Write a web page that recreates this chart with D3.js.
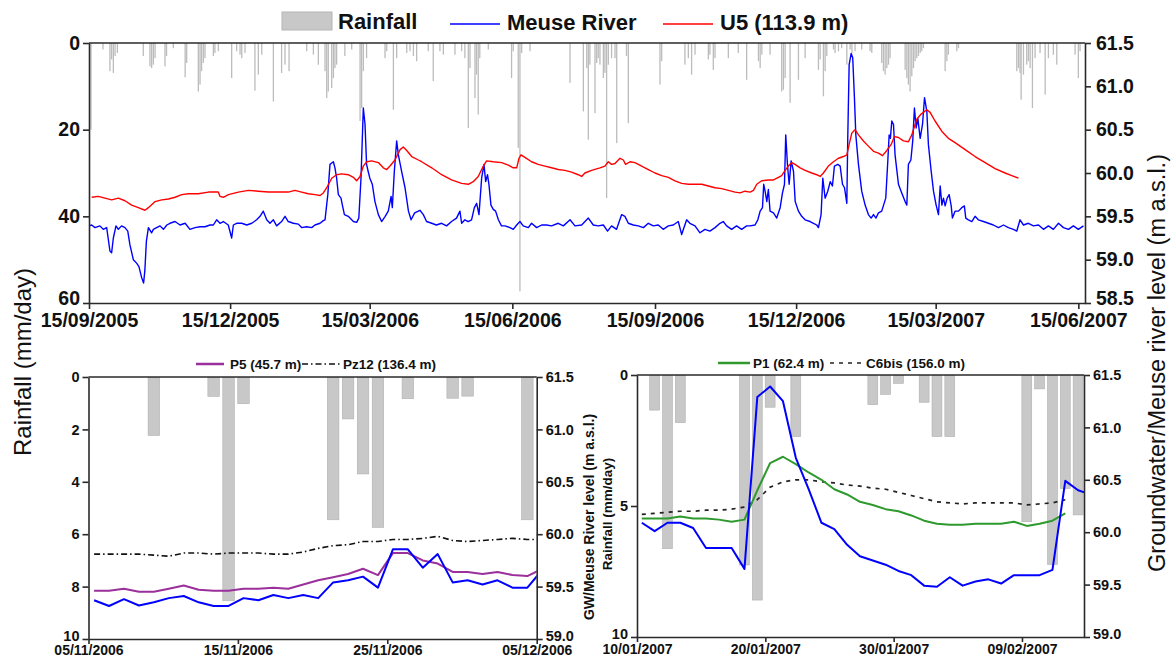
<!DOCTYPE html>
<html><head><meta charset="utf-8">
<script src="https://cdn.jsdelivr.net/npm/d3@7"></script>
<style>
body{margin:0;background:#fff;}
svg{display:block;font-family:"Liberation Sans",Arial,sans-serif;}
</style></head><body>
<svg id="chart" width="1173" height="659"></svg>
<script>
// ---------------- DATA ----------------
// Top panel: days since 15/09/2005
const topStart = "2005-09-15";
const topTickLabels = ["15/09/2005","15/12/2005","15/03/2006","15/06/2006","15/09/2006","15/12/2006","15/03/2007","15/06/2007"];
const topRainTicks = [0,20,40,60];
const topLevelTicks = [58.5,59.0,59.5,60.0,60.5,61.0,61.5];
const topRain = [[1.3,20],[9,1.5],[13.5,6.5],[14.6,3.8],[15.7,6.9],[16.8,3],[18.3,2.3],[35,3],[39.3,5.4],[40.4,5.8],[41.5,5],[42.6,3.5],[49,5.4],[50,3],[54.4,1.2],[62,7.9],[63,4.6],[70.5,11.2],[71.6,9.6],[72.6,6.5],[73.7,4.6],[74.8,3.5],[80.2,3],[81.2,2.3],[83.4,1.9],[92,8.1],[95.2,1.9],[97.4,2.7],[98.5,3.5],[100.6,2.3],[107,11],[109.2,7.3],[111.4,2.7],[118.9,13.5],[124.2,6.9],[126.4,5],[129,6.5],[140.4,1.9],[144.7,2.7],[147.9,5],[152.2,6.5],[153.3,12.7],[154.3,11.2],[156.5,10.4],[157.6,8.1],[158.6,5.8],[159.7,5],[165,3],[169.4,1.5],[174.8,18],[175.8,15],[176.9,6.5],[179,3.5],[190.9,3.5],[192,1.9],[196.3,15.4],[198.4,3.5],[204.9,2.3],[207,1.9],[209.2,3],[211.3,4.2],[218.8,1.9],[222,8.8],[226.3,1.9],[228.5,2.7],[236,2.7],[240.3,1.9],[242.4,3.5],[244.6,19.6],[245.7,5.8],[248.9,12.7],[249.9,7.3],[251,16.5],[252,3.5],[257.5,1.5],[272.5,8.1],[273.6,1.9],[276.8,24.2],[277.9,57.3],[279,2.3],[284.4,1.9],[310.2,9.2],[318.8,15.8],[321,5.8],[322,22.3],[323,5],[326.3,16.2],[327.4,4.6],[328.4,3.5],[329.5,5],[331.7,8.1],[332.7,6.9],[333.8,35.8],[334.9,5],[337,3.5],[339.2,3.5],[340.3,23.1],[346.6,3],[347.8,18.5],[368.2,9.6],[369.3,4.2],[384.3,5],[386.5,3.5],[388.6,7.3],[390.8,2.7],[399.4,3.8],[400.4,2.7],[402.6,6.2],[403.7,3.5],[412.3,3.5],[418.7,2.3],[424.1,8.5],[431.7,4.2],[432.8,5.8],[433.9,2.7],[439.2,2.7],[446.7,11.2],[447.8,10.8],[448.9,8.1],[452.1,13.8],[457.5,8.5],[461.8,3.5],[470.4,6.2],[471.5,3.8],[473.6,12.3],[474.7,6.5],[475.8,3],[480.1,1.5],[481.1,2.3],[483.3,1.9],[485.4,1.2],[488.7,5],[490.8,1.5],[492,2.3],[494,1.9],[498.3,1.5],[503.7,1.9],[504.8,2.3],[511.2,4.6],[512.3,6.5],[513.4,7.3],[514.5,5.8],[515.6,5],[516.6,3.5],[526.3,6.2],[527.4,8.1],[528.4,9.6],[529.5,11.2],[530.6,7.7],[531.7,5.8],[532.7,4.2],[533.8,3.5],[534.9,3],[536,2.3],[537,1.9],[538.1,1.2],[552.1,6.5],[553.2,4.2],[554.2,2.7],[559.6,1.9],[560.7,1.2],[598.3,6.5],[599.4,5.8],[600.4,6.9],[601.1,13.1],[602.6,7.3],[604.7,5],[605.8,4.2],[606.9,5.8],[608.4,15],[610.1,3.5],[613.3,2.3],[616.6,11.9],[618.7,3.5],[621.9,2.7],[624.1,5],[635.9,2.7],[638,8.1],[639.1,1.9]];
const topMeuse = [[0,59.39],[1.7,59.40],[3.9,59.37],[7,59.39],[9.2,59.35],[11.4,59.37],[13.5,59.10],[14.6,59.08],[15.7,59.25],[17.4,59.39],[18.9,59.35],[21,59.39],[23.2,59.37],[25,59.33],[26.4,59.17],[28.6,59.00],[30.7,58.96],[32.2,58.92],[34,58.79],[35.2,58.73],[36,58.87],[37,59.21],[38.3,59.37],[40.4,59.31],[41.5,59.35],[43.6,59.37],[45.8,59.39],[48,59.35],[50.2,59.40],[52.2,59.42],[55.5,59.44],[58.7,59.40],[62,59.42],[65.1,59.35],[68.4,59.37],[71.6,59.38],[74.8,59.38],[78,59.40],[80.2,59.40],[82.3,59.46],[84.5,59.42],[86.6,59.44],[89.8,59.40],[92,59.25],[93.1,59.40],[95.2,59.42],[98.5,59.42],[101.7,59.40],[105,59.42],[108.1,59.46],[110.3,59.50],[112.4,59.56],[114.6,59.46],[116.7,59.42],[118.9,59.46],[121,59.39],[124.2,59.44],[126.4,59.50],[128.5,59.44],[131.8,59.42],[135,59.41],[137.1,59.37],[140.3,59.38],[143.6,59.37],[145.7,59.40],[149,59.42],[151.1,59.45],[152.2,59.46],[154,59.75],[155.4,60.10],[157.6,60.13],[158.6,60.06],[159.7,59.94],[160.8,59.75],[162.5,59.71],[163.4,59.63],[164.7,59.52],[167.2,59.50],[170.5,59.44],[172.6,59.43],[174,59.48],[175.4,59.94],[176.9,60.75],[178,60.56],[179,60.10],[180,60.02],[181.1,59.94],[182.7,59.87],[184.4,59.67],[186.6,59.52],[188.7,59.44],[191,59.50],[193,59.56],[194.8,59.73],[195.6,59.60],[196.9,60.02],[198.4,60.37],[199.5,60.21],[201.6,60.02],[203.8,59.83],[206,59.56],[207.7,59.46],[210,59.54],[212.4,59.56],[213.4,59.57],[215.6,59.52],[217.7,59.44],[221,59.42],[224,59.40],[227.4,59.42],[230.6,59.39],[233.8,59.44],[237,59.48],[239.2,59.56],[240.3,59.42],[242.4,59.46],[244.5,59.44],[246.7,59.46],[248.5,59.60],[250,59.65],[251.5,59.52],[253.2,59.94],[254.7,60.10],[255.8,59.90],[257,59.98],[257.9,59.87],[259.2,59.63],[260.7,59.58],[262.2,59.56],[264,59.46],[266,59.39],[268.2,59.39],[271.5,59.37],[273.6,59.35],[275.8,59.40],[277.9,59.44],[280,59.39],[283.3,59.37],[285.4,59.42],[288.7,59.37],[291.9,59.40],[295.1,59.40],[298.3,59.39],[302.6,59.42],[305.9,59.39],[310.2,59.46],[313.4,59.39],[317.7,59.40],[322,59.48],[325.2,59.40],[328.4,59.39],[331.7,59.40],[334.4,59.33],[337,59.39],[340.2,59.35],[343.5,59.52],[345.6,59.50],[347.8,59.42],[351,59.40],[354.2,59.39],[357.5,59.37],[360.7,59.42],[363.9,59.39],[367.1,59.40],[370.3,59.35],[373.6,59.39],[376.8,59.40],[380,59.44],[382.2,59.29],[385.4,59.46],[387.5,59.42],[390.8,59.39],[394,59.31],[397.2,59.35],[400.4,59.33],[403.7,59.37],[406.9,59.42],[409,59.44],[411.2,59.39],[414.4,59.35],[417.6,59.39],[420.9,59.35],[424.1,59.39],[426.3,59.39],[429.5,59.40],[431.3,59.46],[432.8,59.56],[434.3,59.60],[435.1,59.87],[436,59.79],[437.1,59.67],[438.1,59.81],[439.2,59.56],[441.4,59.54],[443.5,59.48],[445.7,59.60],[447.2,59.77],[448.5,59.87],[449.3,60.44],[450.4,60.10],[451.5,59.87],[452.8,60.14],[454.3,60.02],[455.4,59.67],[457.5,59.56],[459.6,59.50],[461.8,59.46],[465,59.44],[467.2,59.42],[469.3,59.40],[470.4,59.37],[472.1,59.52],[473.2,59.94],[474.7,59.71],[476.4,59.79],[478,59.90],[479.4,59.85],[480.7,60.08],[482.9,60.10],[484.4,60.08],[485.9,59.87],[487.2,59.83],[488.7,59.65],[489.3,60.40],[490.2,61.25],[491.5,61.38],[492.5,61.33],[493.6,60.87],[494.5,60.44],[496.2,60.10],[498.3,59.79],[500.5,59.63],[502.6,59.52],[504.4,59.48],[505.9,59.52],[507.5,59.48],[509.1,59.54],[511.2,59.56],[513.8,59.71],[515.1,60.13],[516,60.44],[516.8,60.40],[517.7,60.60],[518.8,60.56],[519.8,60.21],[522,59.87],[524.1,59.77],[526.3,59.67],[527.4,59.63],[528.4,60.10],[530,60.15],[531.2,60.37],[532.3,60.75],[533.4,60.52],[534.5,60.63],[536,60.40],[537.5,60.56],[538.8,60.87],[540.3,60.71],[541.3,60.33],[543.1,60.02],[544.6,59.79],[546.3,59.63],[547.8,59.52],[548.9,59.85],[550,59.63],[551,59.71],[552.1,59.62],[553.4,59.71],[554.7,59.75],[556,59.62],[556.8,59.48],[558.5,59.56],[560.7,59.56],[562.8,59.60],[564.5,59.62],[565.4,59.48],[567.1,59.46],[569.3,59.44],[571.4,59.50],[573.5,59.46],[576.8,59.44],[580,59.42],[583.2,59.40],[586.5,59.37],[589.7,59.40],[592.9,59.37],[596.1,59.35],[598.3,59.33],[600.4,59.46],[602.6,59.40],[605.8,59.42],[609,59.39],[612.3,59.40],[615.5,59.35],[618.7,59.39],[621.9,59.35],[625.2,59.42],[628.4,59.37],[631.6,59.35],[634.8,59.39],[638,59.35],[641.3,59.39]];
const topU5 = [[1.7,59.72],[6,59.73],[10.3,59.71],[14.6,59.69],[18.9,59.71],[23.2,59.68],[27.5,59.63],[31.8,59.60],[36.1,59.57],[38.3,59.60],[42.6,59.67],[46.9,59.69],[51.2,59.70],[55.5,59.72],[59.8,59.75],[64.1,59.76],[70.5,59.76],[77,59.78],[83.4,59.78],[84.5,59.73],[86.6,59.72],[89.9,59.75],[96.3,59.78],[102.8,59.80],[109.2,59.79],[115.7,59.78],[122.1,59.78],[128.5,59.78],[132.8,59.80],[137.1,59.78],[141.4,59.76],[145.7,59.75],[149,59.74],[151.1,59.77],[153.3,59.83],[156.5,59.94],[159.7,59.98],[162.9,59.99],[167.2,59.98],[170.5,59.95],[172.6,59.91],[174.8,59.96],[176.9,60.08],[179.1,60.13],[182.3,60.14],[186.6,60.12],[189.8,60.06],[192,60.04],[194.1,60.08],[197.3,60.15],[200.6,60.27],[202.7,60.30],[204.9,60.26],[208.1,60.19],[212.4,60.15],[214.5,60.13],[221,60.06],[227.4,59.98],[233.8,59.92],[240.3,59.88],[244.6,59.87],[247.8,59.90],[251,59.96],[254.3,60.08],[256.4,60.14],[260.7,60.13],[266.1,60.12],[270.4,60.09],[273.6,60.06],[275.8,60.06],[277.3,60.17],[278.6,60.21],[281.1,60.18],[285.4,60.13],[289.7,60.10],[294,60.08],[298.3,60.06],[302.6,60.04],[306.9,60.03],[311.2,60.01],[315.5,59.98],[317.7,59.96],[319.8,60.00],[324.1,60.03],[329.5,60.06],[332.7,60.08],[334.9,60.13],[337,60.10],[339.2,60.11],[342.4,60.17],[344.6,60.15],[346,60.10],[348.9,60.13],[352.1,60.12],[356.4,60.08],[360.7,60.04],[365,60.00],[369.3,59.97],[373.6,59.95],[377.9,59.91],[382.2,59.88],[386.5,59.87],[390.8,59.87],[395.1,59.87],[399.4,59.85],[403.7,59.83],[408,59.82],[412.3,59.80],[416.6,59.78],[419.8,59.77],[423.1,59.79],[426.3,59.78],[428.5,59.80],[430.6,59.87],[433.8,59.91],[438.1,59.92],[441.4,59.92],[444.6,59.95],[446.7,59.97],[448.9,60.03],[451,60.08],[453.2,60.12],[455.3,60.10],[458.6,60.06],[461.8,60.03],[466.1,60.00],[469.3,59.98],[471.5,59.96],[473.6,60.00],[476.8,60.08],[480.1,60.13],[483.3,60.17],[486.5,60.19],[488.7,60.21],[490.2,60.33],[491.9,60.46],[494,60.50],[496.2,60.44],[499.4,60.37],[502.6,60.31],[505.9,60.25],[509.1,60.23],[511.7,60.20],[514.5,60.26],[517.3,60.33],[519.4,60.42],[522,60.41],[525.2,60.37],[528.4,60.36],[530.6,60.44],[533.8,60.62],[536.6,60.68],[540.3,60.73],[542.4,60.70],[545.6,60.60],[550,60.48],[554.2,60.40],[558.5,60.35],[565,60.27],[571.4,60.19],[577.9,60.12],[584.3,60.05],[590.8,60.00],[595.1,59.97],[599.4,59.94]];

// Bottom-left panel: daily readings from 05/11/2006
const blStart = "2006-11-05";
const blTickLabels = ["05/11/2006","15/11/2006","25/11/2006","05/12/2006"];
const blRainTicks = [0,2,4,6,8,10];
const blLevelTicks = [59.0,59.5,60.0,60.5,61.0,61.5];
const blRain = [["2006-11-09",2.23],["2006-11-13",0.74],["2006-11-14",8.54],["2006-11-15",1.02],["2006-11-21",5.45],["2006-11-22",1.60],["2006-11-23",3.70],["2006-11-24",5.74],["2006-11-26",0.83],["2006-11-29",0.81],["2006-11-30",0.73],["2006-12-04",5.45]];
const blMeuse = [59.37,59.315,59.38,59.32,59.35,59.39,59.41,59.35,59.315,59.315,59.39,59.37,59.42,59.39,59.42,59.39,59.54,59.56,59.595,59.49,59.856,59.856,59.68,59.81,59.54,59.56,59.52,59.56,59.49,59.49,59.66];
const blP5 = [59.46,59.46,59.48,59.45,59.45,59.48,59.51,59.47,59.46,59.46,59.48,59.48,59.49,59.48,59.52,59.56,59.59,59.62,59.67,59.61,59.82,59.82,59.75,59.72,59.64,59.64,59.62,59.64,59.61,59.60,59.67];
const blPz12 = [59.81,59.81,59.81,59.81,59.80,59.79,59.82,59.82,59.81,59.82,59.82,59.82,59.81,59.81,59.83,59.865,59.89,59.90,59.93,59.93,59.95,59.95,59.96,59.98,59.94,59.93,59.94,59.95,59.96,59.95,59.95];

// Bottom-right panel: daily readings from 10/01/2007
const brStart = "2007-01-10";
const brTickLabels = ["10/01/2007","20/01/2007","30/01/2007","09/02/2007"];
const brRainTicks = [0,5,10];
const brLevelTicks = [59.0,59.5,60.0,60.5,61.0,61.5];
const brRain = [["2007-01-11",1.34],["2007-01-12",6.63],["2007-01-13",1.82],["2007-01-18",7.25],["2007-01-19",8.59],["2007-01-20",1.23],["2007-01-22",2.35],["2007-01-28",1.13],["2007-01-29",0.74],["2007-01-30",0.32],["2007-02-01",1.04],["2007-02-02",2.35],["2007-02-03",2.35],["2007-02-09",5.6],["2007-02-10",0.53],["2007-02-11",7.23],["2007-02-12",4.33],["2007-02-13",5.34]];
const brMeuse = [60.09,60.01,60.09,60.09,60.04,59.85,59.85,59.85,59.65,61.29,61.39,61.25,60.71,60.41,60.09,60.03,59.88,59.77,59.73,59.69,59.63,59.59,59.49,59.48,59.57,59.49,59.53,59.55,59.51,59.59,59.59,59.59,59.64,60.49,60.40,60.36];
const brP1 = [60.13,60.13,60.13,60.15,60.13,60.13,60.12,60.10,60.12,60.40,60.66,60.72,60.65,60.57,60.50,60.41,60.36,60.29,60.26,60.22,60.20,60.16,60.11,60.08,60.07,60.07,60.08,60.08,60.08,60.10,60.06,60.08,60.11,60.18];
const brC6bis = [60.17,60.18,60.19,60.20,60.20,60.21,60.21,60.22,60.24,60.31,60.43,60.48,60.50,60.50,60.48,60.47,60.45,60.44,60.42,60.41,60.38,60.35,60.32,60.29,60.28,60.27,60.28,60.28,60.28,60.28,60.26,60.27,60.28,60.31];

const readingHour = 9; // daily readings taken in the morning

// ---------------- DRAW ----------------
const svg = d3.select("#chart");
const DAY = 864e5;
const pISO = d3.utcParse("%Y-%m-%d");
const pDMY = d3.utcParse("%d/%m/%Y");
const fDMY = d3.utcFormat("%d/%m/%Y");
const AX = "#2a2a2a";
const BLUE = "#0000ff", RED = "#ff0000", PURPLE = "#9b2f9b", GREEN = "#2e9a2e";
const BAR = "#c8c8c8";

function styleAxis(g, fs){
  g.selectAll("path.domain").attr("stroke",AX).attr("stroke-width",1.6);
  g.selectAll(".tick line").attr("stroke",AX).attr("stroke-width",1.6);
  g.selectAll(".tick text").attr("fill","#111").style("font-size",fs+"px").style("font-weight","bold")
    .style("font-family",'"Liberation Sans",Arial,sans-serif');
}

function panel(o){
  const {x,yR,yL,fs} = o;
  const [x0,x1] = x.range(); const [y0,y1] = yR.range(); // y0 top, y1 bottom
  const id = "clip"+o.name;
  svg.append("clipPath").attr("id",id).append("rect").attr("x",x0).attr("y",y0).attr("width",x1-x0).attr("height",y1-y0);
  const g = svg.append("g").attr("clip-path",`url(#${id})`);
  // rain bars
  g.selectAll("rect.rain").data(o.rain).join("rect").attr("class","rain")
    .attr("x",d=>x(new Date(d.t.getTime()-o.barHalf*DAY)))
    .attr("width",d=>Math.max(o.minW||0, x(new Date(d.t.getTime()+o.barHalf*DAY))-x(new Date(d.t.getTime()-o.barHalf*DAY))))
    .attr("y",yR(0)).attr("height",d=>yR(d.v)-yR(0))
    .attr("fill",o.barFill||BAR).attr("stroke",o.barStroke||"none").attr("stroke-width",0.6);
  // lines
  o.lines.forEach(s=>{
    g.append("path").datum(s.data).attr("fill","none").attr("stroke",s.color)
      .attr("stroke-width",s.width).attr("stroke-dasharray",s.dash||null)
      .attr("stroke-linejoin","round")
      .attr("d",d3.line().x(d=>x(d.t)).y(d=>yL(d.v)));
  });
  // frame top
  svg.append("line").attr("x1",x0).attr("x2",x1).attr("y1",y0).attr("y2",y0).attr("stroke",AX).attr("stroke-width",1.6);
  // axes
  const ax = svg.append("g").attr("transform",`translate(0,${y1})`)
    .call(d3.axisBottom(x).tickValues(o.xTicks).tickFormat(fDMY).tickSize(o.xTick||6).tickSizeOuter(0).tickPadding(o.xPad||3));
  styleAxis(ax, o.xfs||fs);
  const al = svg.append("g").attr("transform",`translate(${x0},0)`)
    .call(d3.axisLeft(yR).tickValues(o.rTicks).tickFormat(d3.format("d")).tickSize(6).tickSizeOuter(0).tickPadding(3));
  styleAxis(al, fs);
  al.selectAll(".tick text").attr("dy", d => d===o.rTicks[o.rTicks.length-1] ? "0.1em" : "0.32em");
  const ar = svg.append("g").attr("transform",`translate(${x1},0)`)
    .call(d3.axisRight(yL).tickValues(o.lTicks).tickFormat(d3.format(".1f")).tickSize(6).tickSizeOuter(0).tickPadding(o.rPad||4));
  styleAxis(ar, fs);
  ar.selectAll(".tick text").attr("dy", d => d===o.lTicks[0] ? "0.1em" : "0.32em");
}

// ---- top panel
const t0 = pISO(topStart);
const dayDate = d => new Date(t0.getTime()+d*DAY);
const xTop = d3.scaleUtc().domain([t0, new Date(Date.UTC(2007,5,19,7))]).range([89,1085]);
const yRainTop = d3.scaleLinear().domain([0,60]).range([43,303]);
const yLevTop = d3.scaleLinear().domain([58.5,61.5]).range([303,43]);
panel({name:"top",x:xTop,yR:yRainTop,yL:yLevTop,fs:19.5,xPad:4,rPad:5,
  rain:topRain.map(d=>({t:dayDate(d[0]),v:d[1]})),barHalf:0.42,minW:1.2,barFill:"#bcbcbc",
  xTicks:topTickLabels.map(pDMY),rTicks:topRainTicks,lTicks:topLevelTicks,
  lines:[{data:topMeuse.map(d=>({t:dayDate(d[0]),v:d[1]})),color:BLUE,width:1.4},
         {data:topU5.map(d=>({t:dayDate(d[0]),v:d[1]})),color:RED,width:1.4}]});

// ---- bottom panels helper
function daily(start, arr){ const s=pISO(start); return arr.map((v,i)=>({t:new Date(s.getTime()+i*DAY+readingHour*36e5),v})); }
function rainPts(arr){ return arr.map(d=>({t:new Date(pISO(d[0]).getTime()+readingHour*36e5),v:d[1]})); }

const xBL = d3.scaleUtc().domain([pISO("2006-11-05"),pISO("2006-12-05")]).range([88.5,536.7]);
const yRainBL = d3.scaleLinear().domain([0,10]).range([377,639]);
const yLevBL = d3.scaleLinear().domain([59,61.5]).range([639,377]);
panel({name:"bl",x:xBL,yR:yRainBL,yL:yLevBL,fs:14.5,xfs:14,xTick:5,xPad:1,rPad:3,
  rain:rainPts(blRain),barHalf:0.385,barStroke:"#b0b0b0",
  xTicks:blTickLabels.map(pDMY),rTicks:blRainTicks,lTicks:blLevelTicks,
  lines:[{data:daily(blStart,blPz12),color:"#111",width:1.6,dash:"6,3,1.5,3"},
         {data:daily(blStart,blP5),color:PURPLE,width:2},
         {data:daily(blStart,blMeuse),color:BLUE,width:2}]});

const xBR = d3.scaleUtc().domain([pISO("2007-01-10"),new Date(Date.UTC(2007,1,13,20))]).range([637,1084]);
const yRainBR = d3.scaleLinear().domain([0,10]).range([375,637]);
const yLevBR = d3.scaleLinear().domain([59,61.5]).range([637,375]);
panel({name:"br",x:xBR,yR:yRainBR,yL:yLevBR,fs:14.5,xfs:14,xTick:5,xPad:2,rPad:3,
  rain:rainPts(brRain),barHalf:0.385,barStroke:"#b0b0b0",
  xTicks:brTickLabels.map(pDMY),rTicks:brRainTicks,lTicks:brLevelTicks,
  lines:[{data:daily(brStart,brC6bis),color:"#222",width:1.7,dash:"4,5"},
         {data:daily(brStart,brP1),color:GREEN,width:2},
         {data:daily(brStart,brMeuse),color:BLUE,width:2}]});

// ---- legends
const lg = svg.append("g").style("font-weight","bold").attr("fill","#111");
lg.append("rect").attr("x",282).attr("y",12).attr("width",50).attr("height",18).attr("fill","#c8c8c8").attr("stroke","#b5b5b5");
lg.append("text").attr("x",338).attr("y",29).style("font-size","22px").text("Rainfall");
lg.append("line").attr("x1",450).attr("x2",500).attr("y1",24).attr("y2",24).attr("stroke",BLUE).attr("stroke-width",1.6);
lg.append("text").attr("x",507).attr("y",30).style("font-size","22px").text("Meuse River");
lg.append("line").attr("x1",663).attr("x2",713).attr("y1",24).attr("y2",24).attr("stroke",RED).attr("stroke-width",1.6);
lg.append("text").attr("x",720).attr("y",30).style("font-size","22px").text("U5 (113.9 m)");

lg.append("line").attr("x1",196).attr("x2",224).attr("y1",364).attr("y2",364).attr("stroke",PURPLE).attr("stroke-width",2.5);
lg.append("text").attr("x",230).attr("y",369).style("font-size","13.5px").text("P5 (45.7 m)");
lg.append("line").attr("x1",302).attr("x2",340).attr("y1",364).attr("y2",364).attr("stroke","#111").attr("stroke-width",1.6).attr("stroke-dasharray","6,3,1.5,3");
lg.append("text").attr("x",343).attr("y",369).style("font-size","13.5px").text("Pz12 (136.4 m)");

lg.append("line").attr("x1",718).attr("x2",750).attr("y1",363).attr("y2",363).attr("stroke",GREEN).attr("stroke-width",2.5);
lg.append("text").attr("x",753).attr("y",368).style("font-size","13.5px").text("P1 (62.4 m)");
lg.append("line").attr("x1",830).attr("x2",863).attr("y1",363).attr("y2",363).attr("stroke","#222").attr("stroke-width",1.7).attr("stroke-dasharray","4,5");
lg.append("text").attr("x",866).attr("y",368).style("font-size","13.5px").text("C6bis (156.0 m)");

// ---- axis titles
svg.append("text").attr("transform","translate(31,362) rotate(-90)").attr("text-anchor","middle")
  .style("font-size","24px").attr("fill","#111").text("Rainfall (mm/day)");
svg.append("text").attr("transform","translate(1165,363) rotate(-90)").attr("text-anchor","middle")
  .style("font-size","23.5px").attr("fill","#111").text("Groundwater/Meuse river level (m a.s.l.)");
svg.append("text").attr("transform","translate(594,517) rotate(-90)").attr("text-anchor","middle")
  .style("font-size","14px").style("font-weight","bold").attr("fill","#111").text("GW/Meuse River level (m a.s.l.)");
svg.append("text").attr("transform","translate(612,514) rotate(-90)").attr("text-anchor","middle")
  .style("font-size","13.5px").style("font-weight","bold").attr("fill","#111").text("Rainfall (mm/day)");
</script>
</body></html>
